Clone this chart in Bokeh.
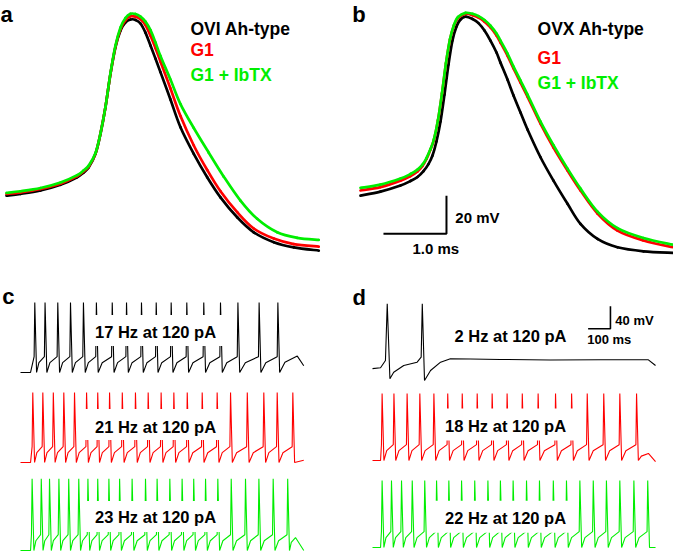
from bokeh.plotting import figure
from bokeh.models import Label
from bokeh.layouts import column, row
from bokeh.embed import file_html
from bokeh.resources import INLINE

FONT = "Liberation Sans"
BLACK, RED, GREEN = "#000000", "#ff0000", "#00ee00"

# ---------------- Panel a : OVI Ah-type action potential (ms, mV)
a_black_t = [0, 0.222, 0.540, 0.857, 1.122, 1.222, 1.306, 1.413, 1.492, 1.571, 1.651, 1.730, 1.810, 1.889,
             1.968, 2.048, 2.127, 2.206, 2.286, 2.365, 2.444, 2.603, 2.762, 2.973, 3.186, 3.397, 3.662,
             3.925, 4.243, 4.560, 4.957]
a_black_v = [-43.2, -42.3, -40.5, -37.5, -33.5, -31.1, -28.3, -21.2, -10.7, 3.3, 20.9, 34.9, 43.7, 48.0,
             49.5, 49.3, 47.4, 42.6, 35.8, 28.9, 21.8, 7.4, -7.2, -21.2, -33.5, -44.1, -54.6,
             -62.5, -67.7, -70.4, -72.1]
a_red_t = a_black_t
a_red_v = [-42.3, -41.5, -39.7, -36.9, -32.9, -30.5, -27.9, -21.1, -10.5, 3.4, 21.0, 35.3, 44.5, 49.2,
           51.2, 51.0, 49.7, 46.6, 41.0, 34.5, 27.4, 13.2, -1.3, -16.8, -29.7, -40.9, -51.9,
           -60.5, -65.8, -68.7, -70.0]
a_green_t = [0, 0.222, 0.540, 0.857, 1.122, 1.222, 1.306, 1.413, 1.492, 1.571, 1.651, 1.730, 1.810, 1.889,
             1.968, 2.048, 2.127, 2.206, 2.286, 2.365, 2.444, 2.603, 2.762, 2.973, 3.211, 3.449, 3.714,
             3.979, 4.297, 4.614, 4.957]
a_green_v = [-41.7, -40.9, -39.2, -36.3, -32.4, -30.0, -27.4, -20.8, -10.5, 3.4, 21.3, 35.8, 45.3, 50.3,
             52.5, 52.4, 51.0, 48.4, 43.9, 37.4, 30.3, 17.9, 5.0, -7.6, -20.6, -33.2, -45.8,
             -55.4, -62.5, -65.4, -66.5]

# ---------------- Panel b : OVX Ah-type action potential (ms, mV)
b_black_t = [0, 0.317, 0.635, 0.794, 0.905, 1.0, 1.079, 1.143, 1.206, 1.270, 1.333, 1.397, 1.460, 1.524,
             1.587, 1.667, 1.778, 1.873, 1.968, 2.063, 2.159, 2.222, 2.333, 2.429, 2.540, 2.651, 2.857,
             3.063, 3.286, 3.492, 3.762, 4.079, 4.492, 4.968]
b_black_v = [-43.2, -41.1, -37.9, -35.5, -33.4, -30.3, -26.6, -22.1, -14.7, -4.2, 10.0, 25.8, 38.4, 45.8,
             49.5, 51.05, 49.8, 47.6, 43.7, 38.4, 32.1, 26.8, 17.9, 9.5, 0.5, -8.4, -23.0,
             -35.3, -47.5, -58.1, -66.0, -70.4, -72.5, -73.3]
b_red_t = [0, 0.317, 0.635, 0.794, 0.905, 0.984, 1.048, 1.111, 1.167, 1.230, 1.294, 1.357, 1.421, 1.484,
           1.548, 1.667, 1.778, 1.873, 1.968, 2.063, 2.159, 2.222, 2.333, 2.429, 2.540, 2.651, 2.857,
           3.063, 3.286, 3.492, 3.762, 4.079, 4.492, 4.968]
b_red_v = [-40.5, -38.7, -35.3, -32.9, -30.5, -27.6, -23.9, -18.9, -13.7, -3.7, 10.5, 26.3, 38.9, 46.3,
           50.3, 52.5, 51.8, 50.5, 48.4, 45.3, 41.1, 37.4, 30.5, 23.7, 16.3, 8.9, -5.3,
           -17.9, -30.0, -40.5, -52.6, -61.6, -66.8, -70.4]
b_green_t = b_red_t
b_green_v = [-39.1, -37.4, -34.2, -31.8, -29.5, -26.9, -23.4, -18.7, -13.4, -3.4, 10.8, 26.6, 39.2, 46.6,
             50.8, 53.0, 52.5, 51.3, 49.2, 46.2, 42.1, 38.4, 31.6, 24.7, 17.4, 10.0, -4.2,
             -16.6, -29.0, -39.5, -51.6, -60.3, -65.5, -69.1]

legend_a = ["OVI Ah-type", "G1", "G1 + IbTX"]
legend_b = ["OVX Ah-type", "G1", "G1 + IbTX"]
ap_scale_ms, ap_scale_mv = 1.0, 20
ap_scale_labels = ["1.0 ms", "20 mV"]

# ---------------- Panels c, d : spike times (ms) during 120 pA step
c_black_spikes = [64, 110, 167, 224, 282, 340, 411, 475, 542, 608, 675, 745, 821, 896, 974, 1069, 1153]
c_red_spikes = [55, 100, 147, 194, 242, 296, 346, 399, 456, 515, 572, 630, 687, 747, 814, 881, 941,
                1016, 1090, 1150, 1220]
c_green_spikes = [52, 93, 130, 172, 216, 261, 302, 346, 396, 444, 500, 560, 612, 669, 724, 776, 829, 884,
                  944, 1008, 1068, 1132, 1197]
d_black_t = [0, 36, 58, 66, 78, 95, 140, 200, 218, 223, 233, 260, 305, 349, 439, 573, 797, 1021, 1236, 1268]
d_black_v = [-62, -60.5, -47.6, 52.7, -80, -68.3, -56.5, -50.6, -41.8, 52.7, -83, -65.3, -50.6, -44.6,
             -45.0, -45.8, -46.7, -46.4, -46.4, -56.5]
d_red_spikes = [43, 96, 155, 212, 275, 337, 402, 469, 536, 603, 671, 742, 820, 892, 962, 1036, 1108, 1183]
d_green_spikes = [43, 85, 130, 178, 234, 287, 342, 399, 458, 517, 573, 630, 690, 748, 810, 869, 929, 989,
                  1048, 1108, 1171, 1233]
c_labels = ["17 Hz at 120 pA", "21 Hz at 120 pA", "23 Hz at 120 pA"]
d_labels = ["2 Hz at 120 pA", "18 Hz at 120 pA", "22 Hz at 120 pA"]
train_scale_ms, train_scale_mv = 100, 40
train_scale_labels = ["100 ms", "40 mV"]


def make_fig(w, h, xr, yr):
    p = figure(width=w, height=h, x_range=xr, y_range=yr, output_backend="svg",
               toolbar_location=None, x_axis_location=None, y_axis_location=None,
               min_border=0, outline_line_color=None, background_fill_color="white",
               border_fill_color="white")
    p.grid.grid_line_color = None
    return p


def label(p, x, y, text, size, color=BLACK, align="left", baseline="alphabetic"):
    p.add_layout(Label(x=x, y=y, text=text, text_font=FONT, text_font_style="bold",
                       text_font_size=size, text_color=color, text_align=align,
                       text_baseline=baseline))


def smooth_line(p, t, v, color, width):
    """Draw the read points as a smooth curve (Catmull-Rom rendered with Bezier segments)."""
    n = len(t)
    seg = dict(x0=[], y0=[], x1=[], y1=[], cx0=[], cy0=[], cx1=[], cy1=[])
    for i in range(n - 1):
        a = max(i - 1, 0)
        d = min(i + 2, n - 1)
        seg["x0"].append(t[i]); seg["y0"].append(v[i])
        seg["x1"].append(t[i + 1]); seg["y1"].append(v[i + 1])
        seg["cx0"].append(t[i] + (t[i + 1] - t[a]) / 6); seg["cy0"].append(v[i] + (v[i + 1] - v[a]) / 6)
        seg["cx1"].append(t[i + 1] - (t[d] - t[i]) / 6); seg["cy1"].append(v[i + 1] - (v[d] - v[i]) / 6)
    p.bezier(line_color=color, line_width=width, line_cap="round", **seg)


def spike_train(spikes, v_peak, stim_on, stim_off, v_off, t_end, v_end,
                v_rest=-60.0, v_th=-32.0, v_ahp=-60.0):
    t, v = [0, stim_on], [v_rest, v_rest]
    for i, s in enumerate(spikes):
        t += [s - 3, s, s + 8]
        v += [v_th, v_peak, v_ahp]
        nxt = spikes[i + 1] - 3 if i + 1 < len(spikes) else stim_off
        if nxt is not None and nxt - s > 20:
            t.append(s + 8 + 0.3 * (nxt - s - 8))
            v.append(v_ahp + 0.62 * ((v_th if i + 1 < len(spikes) else v_off) - v_ahp))
    if stim_off is not None and stim_off - spikes[-1] > 20:
        t.append(stim_off)
        v.append(v_off)
    t.append(t_end)
    v.append(v_end)
    return t, v


# ================= panel a
pa = make_fig(340, 270, (-0.095, 5.302), (-82.6, 59.5))
for tt, vv, col in [(a_black_t, a_black_v, BLACK), (a_red_t, a_red_v, RED), (a_green_t, a_green_v, GREEN)]:
    smooth_line(pa, tt, vv, col, 2.7)
label(pa, -0.095, 51.9, "a", "22px")
for txt, y, col in zip(legend_a, [44.5, 33.2, 20.5], [BLACK, RED, GREEN]):
    label(pa, 2.92, y, txt, "17.5px", col)

# ================= panel b
pb = make_fig(333, 270, (-0.317, 4.968), (-82.6, 59.5))
for tt, vv, col in [(b_black_t, b_black_v, BLACK), (b_red_t, b_red_v, RED), (b_green_t, b_green_v, GREEN)]:
    smooth_line(pb, tt, vv, col, 2.7)
label(pb, -0.13, 51.9, "b", "22px")
for txt, y, col in zip(legend_b, [44.5, 29.5, 16.1], [BLACK, RED, GREEN]):
    label(pb, 2.81, y, txt, "17.5px", col)
sb_x, sb_y = 1.365, -63.2
pb.line([sb_x - ap_scale_ms, sb_x, sb_x], [sb_y, sb_y, sb_y + ap_scale_mv], line_color=BLACK, line_width=2)
label(pb, sb_x - 0.54, -71.0, ap_scale_labels[0], "15px")
label(pb, sb_x + 0.14, -54.7, ap_scale_labels[1], "15px")

# ================= panel c
pc = make_fig(340, 282, (-89.6, 1433.6), (-378.6, 120.5))
c_offsets = [0, -159.3, -315.1]
c_traces = [spike_train(c_black_spikes, 64, 45, 1240, -31, 1269, -48),
            spike_train(c_red_spikes, 64, 45, 1240, -48, 1269, -56),
            spike_train(c_green_spikes, 67, 45, 1232, -37, 1269, -60)]
for (tt, vv), off, col in zip(c_traces, c_offsets, [BLACK, RED, GREEN]):
    pc.line(tt, [x + off for x in vv], line_color=col, line_width=1.1)
pc.rect(x=[618, 591, 596], y=[14.3, -152, -315], width=140, height=31,
        width_units="screen", height_units="screen", fill_color="white", line_color=None)
for txt, y in zip(c_labels, [11.7, -156.5, -315.8]):
    label(pc, 605, y, txt, "16.5px", align="center", baseline="middle")
label(pc, -82, 73.6, "c", "22px")

# ================= panel d
pd = make_fig(333, 282, (-143.4, 1348.5), (-387.5, 111.7))
d_offsets = [0, -164.6, -318.6]
d_traces = [(d_black_t, d_black_v),
            spike_train(d_red_spikes, 58.6, 36, 1236, -47.6, 1268, -62),
            spike_train(d_green_spikes, 58.6, 36, None, None, 1268, -60)]
for (tt, vv), off, col in zip(d_traces, d_offsets, [BLACK, RED, GREEN]):
    pd.line(tt, [x + off for x in vv], line_color=col, line_width=1.1)
pd.rect(x=[614, 578], y=[-161, -324], width=140, height=32,
        width_units="screen", height_units="screen", fill_color="white", line_color=None)
for txt, x, y in zip(d_labels, [618, 596, 596], [-3.4, -164.4, -326.4]):
    label(pd, x, y, txt, "16.5px", align="center", baseline="middle")
label(pd, -89.6, 64.7, "d", "22px")
dx, dy = 1066, 8.5
pd.line([dx - train_scale_ms, dx, dx], [dy, dy, dy + train_scale_mv], line_color=BLACK, line_width=1.6)
label(pd, dx - train_scale_ms - 4, -11.3, train_scale_labels[0], "13px")
label(pd, dx + 22, 23.2, train_scale_labels[1], "13px")

layout = column(row(pa, pb, spacing=0), row(pc, pd, spacing=0), spacing=0)
open("out.html", "w").write(file_html(layout, INLINE))
